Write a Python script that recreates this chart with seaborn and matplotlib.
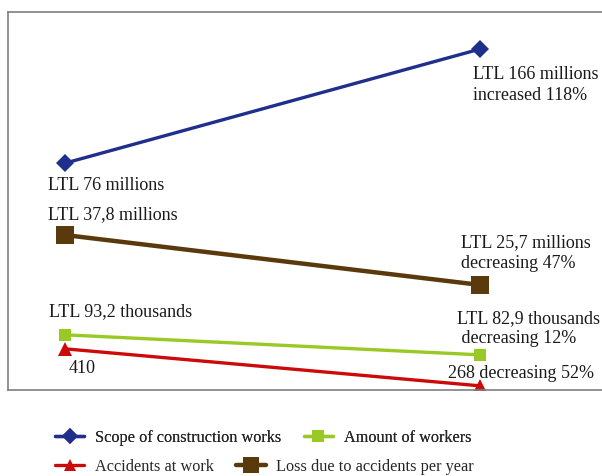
import matplotlib.pyplot as plt
import seaborn as sns
from matplotlib.lines import Line2D

# years compared (two points per series)
periods = [0, 1]

# plotted positions (relative chart scale, 0 = bottom frame, 100 = top frame)
scope_works = [60.0, 90.2]
loss_accidents = [41.0, 27.8]
amount_workers = [14.6, 9.3]
accidents_work = [10.9, 1.1]

series_names = ['Scope of construction works', 'Amount of workers',
                'Accidents at work', 'Loss due to accidents per year']

scope_labels = ['LTL 76 millions', 'LTL 166 millions\nincreased 118%']
loss_labels = ['LTL 37,8 millions', 'LTL 25,7 millions\ndecreasing 47%']
workers_labels = ['LTL 93,2 thousands', 'LTL 82,9 thousands\n decreasing 12%']
accident_labels = ['410', '268 decreasing 52%']

sns.set_style('white')
plt.rcParams['font.family'] = ['Liberation Serif', 'DejaVu Serif']

fig = plt.figure(figsize=(6.02, 4.76), dpi=100)
ax = fig.add_axes([8 / 602, 1 - 390 / 476, 1.0, 378 / 476])

styles = {
    'scope': dict(color='#1f2f8c', marker='D', markersize=9, linewidth=2.4),
    'workers': dict(color='#99c924', marker='s', markersize=9, linewidth=2.4),
    'accidents': dict(color='#cc0a0a', marker='^', markersize=10, linewidth=2.4),
    'loss': dict(color='#5a3a0c', marker='s', markersize=12.5, linewidth=3.2),
}

sns.lineplot(x=periods, y=scope_works, ax=ax, markeredgewidth=0, **styles['scope'])
sns.lineplot(x=periods, y=loss_accidents, ax=ax, markeredgewidth=0, **styles['loss'])
sns.lineplot(x=periods, y=amount_workers, ax=ax, markeredgewidth=0, **styles['workers'])
sns.lineplot(x=periods, y=accidents_work, ax=ax, markeredgewidth=0, **styles['accidents'])

ax.set_xlim(-0.137, 1.313)
ax.set_ylim(0, 100)
ax.set_xticks([])
ax.set_yticks([])
for s in ax.spines.values():
    s.set_color('#7f7f7f')
    s.set_linewidth(1.2)

fs = 13


def label(vals, texts, offsets):
    for x, y, t, (dx, dy) in zip(periods, vals, texts, offsets):
        ax.annotate(t, xy=(x, y), xytext=(dx, dy), textcoords='offset pixels',
                    ha='left', va='center', fontsize=fs, color='#1a1a1a',
                    linespacing=1.25)


label(scope_works, scope_labels, [(-17, -22), (-7, -36)])
label(loss_accidents, loss_labels, [(-17, 20), (-19, 32)])
label(amount_workers, workers_labels, [(-16, 23), (-23, 26)])
label(accidents_work, accident_labels, [(4, -20), (-32, 12)])


def handle(key):
    st = styles[key]
    return Line2D([], [], color=st['color'], marker=st['marker'],
                  markersize=st['markersize'] * 0.9, linewidth=st['linewidth'],
                  markeredgewidth=0)


leg_kw = dict(ncol=2, frameon=False, fontsize=11.7, handlelength=1.8,
              handletextpad=0.65, columnspacing=1.4, borderaxespad=0,
              borderpad=0, loc='center left')
leg1 = fig.legend([handle('scope'), handle('workers')], series_names[:2],
                  bbox_to_anchor=(55 / 602, 1 - 438 / 476), **leg_kw)
fig.add_artist(leg1)
fig.legend([handle('accidents'), handle('loss')], series_names[2:],
           bbox_to_anchor=(55 / 602, 1 - 467 / 476), **leg_kw)

fig.savefig('out.png', dpi=100)
